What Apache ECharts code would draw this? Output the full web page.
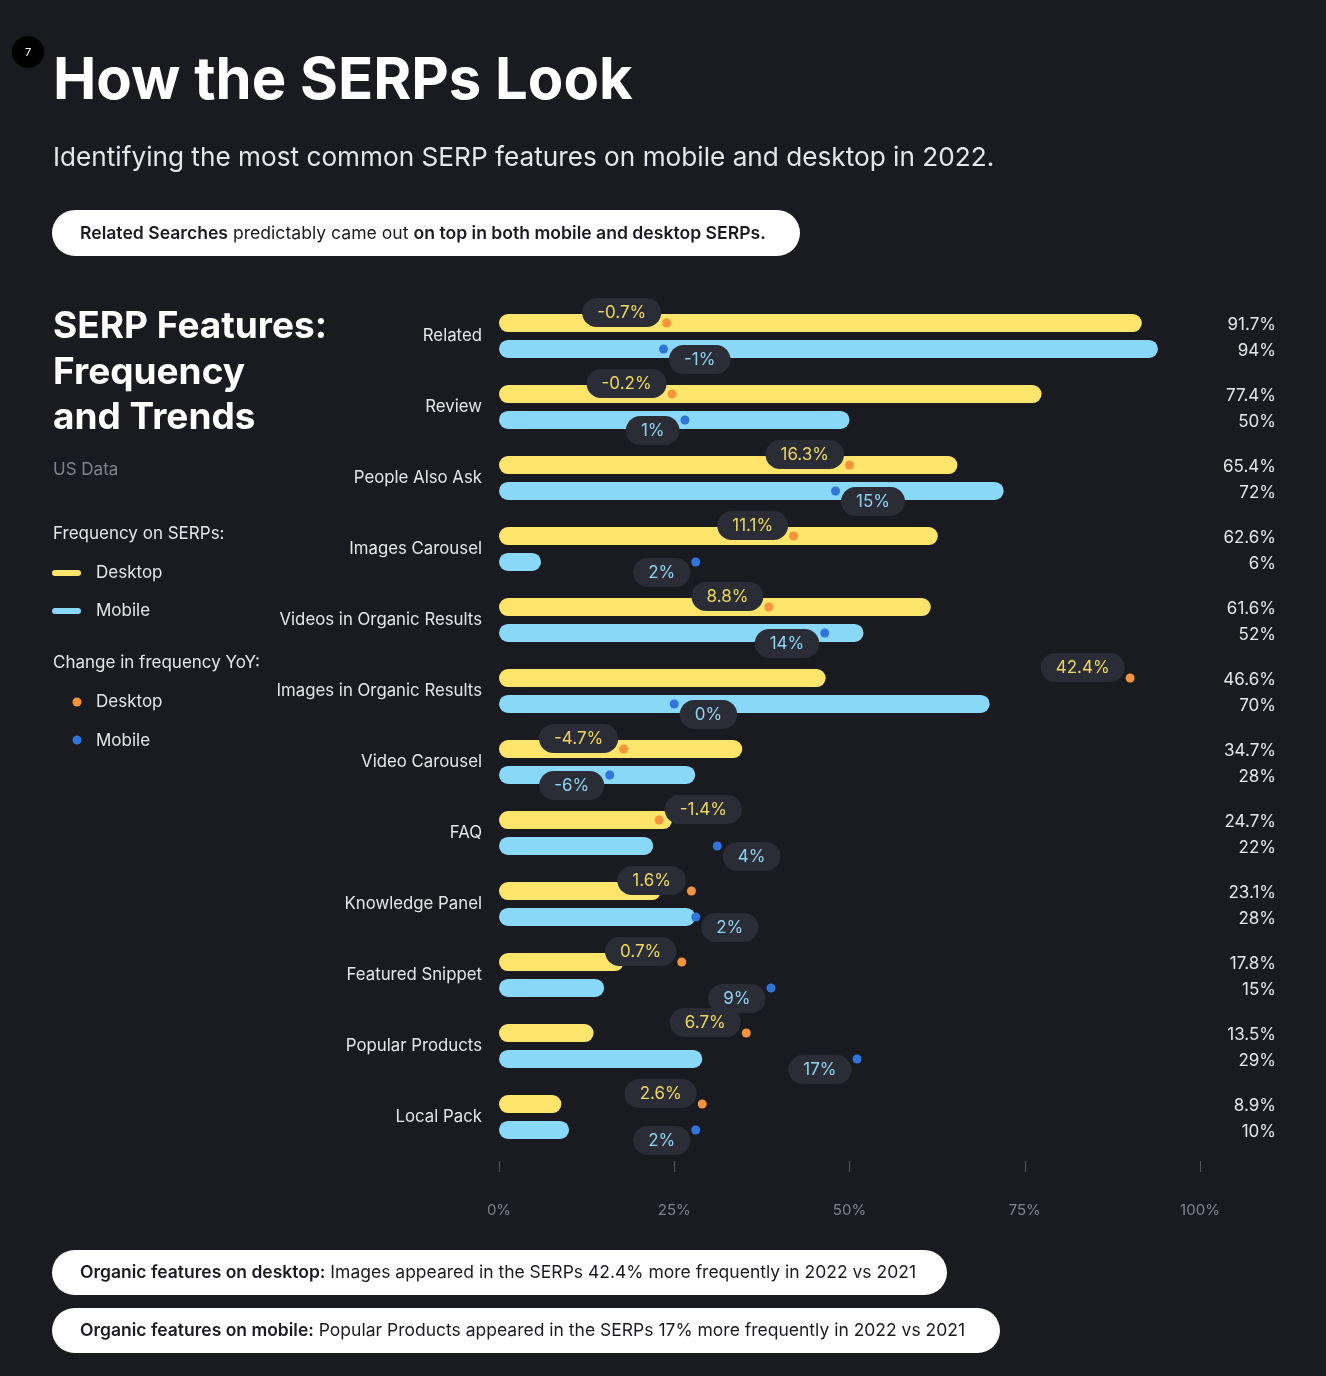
<!DOCTYPE html>
<html>
<head>
<meta charset="utf-8">
<script src="https://cdn.jsdelivr.net/npm/echarts@6/dist/echarts.min.js"></script>
<style>
html,body{margin:0;padding:0;background:#1a1b21;}
#chart{width:1326px;height:1376px;}
</style>
</head>
<body>
<div id="chart"></div>
<script>
// ---- data ----
const categories = ['Related','Review','People Also Ask','Images Carousel','Videos in Organic Results','Images in Organic Results','Video Carousel','FAQ','Knowledge Panel','Featured Snippet','Popular Products','Local Pack'];
const desktopFreq = [91.7,77.4,65.4,62.6,61.6,46.6,34.7,24.7,23.1,17.8,13.5,8.9];
const mobileFreq  = [94,50,72,6,52,70,28,22,28,15,29,10];
const desktopChange = [-0.7,-0.2,16.3,11.1,8.8,42.4,-4.7,-1.4,1.6,0.7,6.7,2.6];
const mobileChange  = [-1,1,15,2,14,0,-6,4,2,9,17,2];
const xTicks = [0,25,50,75,100];

// label placement (style only)
const desktopSide = ['left','left','left','left','left','left','left','right','left','left','left','left'];
const mobileSide  = ['right','left','right','left','left','right','left','right','right','left','left','left'];

const FONT = 'Inter, "Noto Sans", sans-serif';
const C = {
  bg:'#1a1b21', yellow:'#fde46b', blue:'#89d8f8', orange:'#f5943a', dblue:'#2f75da',
  pill:'#2a2d36', ytxt:'#eed75f', btxt:'#8fd2f0', text:'#e6e6e8', grey:'#80838c'
};
const fmt = v => (v < 0 ? '-' : '') + Math.abs(v) + '%';

const chart = echarts.init(document.getElementById('chart'), null, {renderer:'canvas'});

function changeSeries(name, values, sides, color, txtColor, dy){
  return {
    name, type:'scatter', xAxisIndex:1, yAxisIndex:0, z:5,
    symbolSize:9, symbolOffset:[0, dy > 0 ? 13 : -13],
    itemStyle:{color, opacity:1},
    data: values.map((v,i)=>({
      value:[v, i],
      label:{position: sides[i]}
    })),
    label:{
      show:true, distance:1, offset:[0, dy], opacity:1,
      formatter: p => fmt(p.value[0]),
      color: txtColor, fontFamily: FONT, fontSize:17, lineHeight:17,
      backgroundColor: C.pill, borderRadius:15, padding:[7,15,5,15]
    },
    emphasis:{disabled:true}
  };
}

const option = {
  backgroundColor: C.bg,
  animation:false,
  textStyle:{fontFamily:FONT},
  grid:{left:499, right:126, top:300.5, height:852, outerBoundsMode:'none', containLabel:false},
  xAxis:[
    {type:'value', min:xTicks[0], max:xTicks[xTicks.length-1], interval:25, position:'bottom', offset:8.5,
     axisLine:{show:false}, axisTick:{show:true, length:11, lineStyle:{color:'#50535c', width:1}},
     splitLine:{show:false},
     axisLabel:{formatter:'{value}%', margin:42, color:C.grey, fontSize:15, fontFamily:FONT}},
    {type:'value', min:-16.3, max:48.9, show:false}
  ],
  yAxis:[
    {type:'category', data:categories, inverse:true,
     axisLine:{show:false}, axisTick:{show:false},
     axisLabel:{color:C.text, fontSize:16.8, fontFamily:FONT, margin:17}},
    {type:'category', data:categories, inverse:true, position:'right',
     axisLine:{show:false}, axisTick:{show:false},
     axisLabel:{align:'right', margin:76, padding:[4,0,0,0],
       formatter:(v,i)=>'{a|'+desktopFreq[i]+'%}\n{a|'+mobileFreq[i]+'%}',
       rich:{a:{color:C.text, fontSize:17, fontFamily:FONT, lineHeight:26, align:'right'}}}}
  ],
  series:[
    {name:'Desktop', type:'bar', data:desktopFreq, barWidth:18, barGap:'44%',
     itemStyle:{color:C.yellow, borderRadius:9}, emphasis:{disabled:true}},
    {name:'Mobile', type:'bar', data:mobileFreq, barWidth:18, barGap:'44%',
     itemStyle:{color:C.blue, borderRadius:9}, emphasis:{disabled:true}},
    changeSeries('Desktop change', desktopChange, desktopSide, C.orange, C.ytxt, -10.5),
    changeSeries('Mobile change', mobileChange, mobileSide, C.dblue, C.btxt, 10.5)
  ],
  graphic:[
    {type:'circle', shape:{cx:28, cy:52, r:16}, style:{fill:'#000'}},
    {type:'text', style:{text:'7', x:28, y:53, align:'center', verticalAlign:'middle', fill:'#fff', fontSize:11, fontFamily:FONT}},
    {type:'text', style:{text:'How the SERPs Look', x:53, y:82, verticalAlign:'middle', fill:'#fff', fontSize:58, fontWeight:'bold', fontFamily:FONT}},
    {type:'text', style:{text:'Identifying the most common SERP features on mobile and desktop in 2022.', x:53, y:158, verticalAlign:'middle', fill:C.text, fontSize:26.2, fontFamily:FONT}},
    {type:'rect', shape:{x:52, y:210, width:748, height:46, r:23}, style:{fill:'#fff'}},
    {type:'text', style:{text:'{b|Related Searches} predictably came out {b|on top in both mobile and desktop SERPs.}', x:80, y:234, verticalAlign:'middle', fill:'#1b1b1f', fontSize:17.6, fontFamily:FONT,
      rich:{b:{fontWeight:600, fontSize:17.6, fontFamily:FONT, fill:'#1b1b1f'}}}},
    {type:'text', style:{text:'SERP Features:', x:53, y:327, verticalAlign:'middle', fill:'#fff', fontSize:37, fontWeight:'bold', fontFamily:FONT}},
    {type:'text', style:{text:'Frequency', x:53, y:373, verticalAlign:'middle', fill:'#fff', fontSize:37, fontWeight:'bold', fontFamily:FONT}},
    {type:'text', style:{text:'and Trends', x:53, y:418, verticalAlign:'middle', fill:'#fff', fontSize:37, fontWeight:'bold', fontFamily:FONT}},
    {type:'text', style:{text:'US Data', x:53, y:470, verticalAlign:'middle', fill:C.grey, fontSize:17, fontFamily:FONT}},
    {type:'text', style:{text:'Frequency on SERPs:', x:53, y:534, verticalAlign:'middle', fill:C.text, fontSize:17, fontFamily:FONT}},
    {type:'rect', shape:{x:52, y:570, width:29, height:6, r:3}, style:{fill:C.yellow}},
    {type:'text', style:{text:'Desktop', x:96, y:573, verticalAlign:'middle', fill:C.text, fontSize:17, fontFamily:FONT}},
    {type:'rect', shape:{x:52, y:608, width:29, height:6, r:3}, style:{fill:C.blue}},
    {type:'text', style:{text:'Mobile', x:96, y:611, verticalAlign:'middle', fill:C.text, fontSize:17, fontFamily:FONT}},
    {type:'text', style:{text:'Change in frequency YoY:', x:53, y:663, verticalAlign:'middle', fill:C.text, fontSize:17, fontFamily:FONT}},
    {type:'circle', shape:{cx:77, cy:702, r:4.5}, style:{fill:C.orange}},
    {type:'text', style:{text:'Desktop', x:96, y:702, verticalAlign:'middle', fill:C.text, fontSize:17, fontFamily:FONT}},
    {type:'circle', shape:{cx:77, cy:740, r:4.5}, style:{fill:C.dblue}},
    {type:'text', style:{text:'Mobile', x:96, y:741, verticalAlign:'middle', fill:C.text, fontSize:17, fontFamily:FONT}},
    {type:'rect', shape:{x:52, y:1250, width:895, height:45, r:22.5}, style:{fill:'#fff'}},
    {type:'text', style:{text:'{b|Organic features on desktop:} Images appeared in the SERPs 42.4% more frequently in 2022 vs 2021', x:80, y:1273, verticalAlign:'middle', fill:'#1b1b1f', fontSize:17.5, fontFamily:FONT,
      rich:{b:{fontWeight:600, fontSize:17.5, fontFamily:FONT, fill:'#1b1b1f'}}}},
    {type:'rect', shape:{x:52, y:1308, width:948, height:45, r:22.5}, style:{fill:'#fff'}},
    {type:'text', style:{text:'{b|Organic features on mobile:} Popular Products appeared in the SERPs 17% more frequently in 2022 vs 2021', x:80, y:1331, verticalAlign:'middle', fill:'#1b1b1f', fontSize:17.5, fontFamily:FONT,
      rich:{b:{fontWeight:600, fontSize:17.5, fontFamily:FONT, fill:'#1b1b1f'}}}}
  ]
};
chart.setOption(option);
</script>
</body>
</html>
